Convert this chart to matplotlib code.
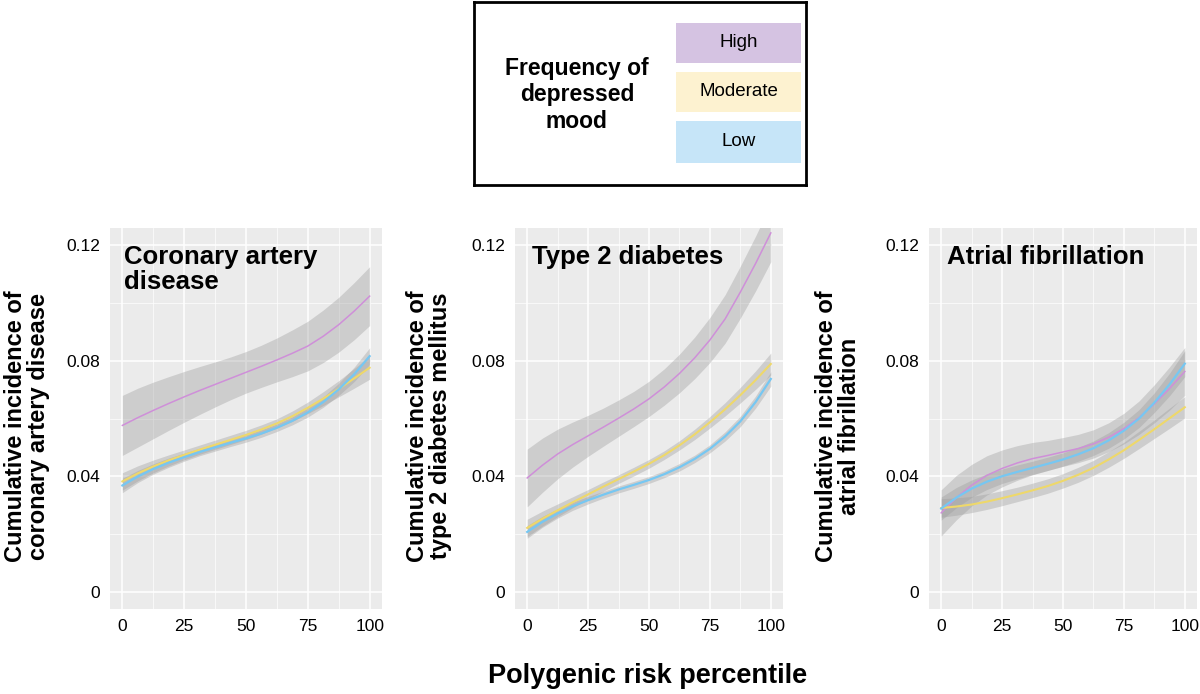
import matplotlib
matplotlib.use("Agg")
import matplotlib.pyplot as plt
from matplotlib.patches import Rectangle
import numpy as np

plt.rcParams['font.family'] = ['Liberation Sans', 'DejaVu Sans']

# percentile positions
pct = [0, 6.25, 12.5, 18.75, 25, 31.25, 37.5, 43.75, 50,
       56.25, 62.5, 68.75, 75, 81.25, 87.5, 93.75, 100]

# Coronary artery disease
cad_high = [0.0576, 0.0603, 0.0628, 0.0652, 0.0675, 0.0697, 0.0718, 0.0739, 0.0760,
            0.0781, 0.0803, 0.0826, 0.0851, 0.0885, 0.0925, 0.0972, 0.1024]
cad_high_ci = [0.0104, 0.0102, 0.0098, 0.0093, 0.0088, 0.0083, 0.0078, 0.0074, 0.0072,
               0.0073, 0.0076, 0.0081, 0.0086, 0.0091, 0.0095, 0.0099, 0.0102]
cad_mod = [0.0382, 0.0410, 0.0434, 0.0455, 0.0474, 0.0492, 0.0509, 0.0526, 0.0543,
           0.0562, 0.0583, 0.0608, 0.0637, 0.0669, 0.0703, 0.0739, 0.0776]
cad_mod_ci = [0.0030, 0.0026, 0.0022, 0.0019, 0.0017, 0.0016, 0.0016, 0.0016, 0.0016,
              0.0016, 0.0016, 0.0018, 0.0020, 0.0024, 0.0028, 0.0034, 0.0040]
cad_low = [0.0368, 0.0399, 0.0425, 0.0447, 0.0466, 0.0484, 0.0500, 0.0516, 0.0531,
           0.0548, 0.0568, 0.0592, 0.0621, 0.0657, 0.0701, 0.0753, 0.0816]
cad_low_ci = [0.0025, 0.0021, 0.0018, 0.0016, 0.0014, 0.0013, 0.0013, 0.0013, 0.0013,
              0.0013, 0.0013, 0.0014, 0.0016, 0.0018, 0.0021, 0.0025, 0.0029]

# Type 2 diabetes
t2d_high = [0.0394, 0.0438, 0.0477, 0.0510, 0.0540, 0.0570, 0.0601, 0.0633, 0.0668,
            0.0709, 0.0756, 0.0810, 0.0872, 0.0945, 0.1038, 0.1137, 0.1243]
t2d_high_ci = [0.0100, 0.0094, 0.0086, 0.0078, 0.0071, 0.0066, 0.0063, 0.0061, 0.0061,
               0.0063, 0.0067, 0.0072, 0.0078, 0.0084, 0.0090, 0.0095, 0.0100]
t2d_mod = [0.0221, 0.0253, 0.0282, 0.0310, 0.0337, 0.0364, 0.0390, 0.0416, 0.0443,
           0.0473, 0.0507, 0.0545, 0.0587, 0.0632, 0.0681, 0.0733, 0.0789]
t2d_mod_ci = [0.0030, 0.0026, 0.0022, 0.0019, 0.0017, 0.0016, 0.0015, 0.0015, 0.0015,
              0.0015, 0.0016, 0.0018, 0.0020, 0.0023, 0.0027, 0.0032, 0.0038]
t2d_low = [0.0207, 0.0242, 0.0271, 0.0296, 0.0317, 0.0336, 0.0354, 0.0370, 0.0387,
           0.0407, 0.0431, 0.0460, 0.0495, 0.0538, 0.0590, 0.0657, 0.0737]
t2d_low_ci = [0.0022, 0.0019, 0.0016, 0.0014, 0.0013, 0.0012, 0.0012, 0.0012, 0.0012,
              0.0012, 0.0013, 0.0013, 0.0014, 0.0016, 0.0018, 0.0021, 0.0025]

# Atrial fibrillation
af_high = [0.0273, 0.0326, 0.0369, 0.0403, 0.0427, 0.0446, 0.0461, 0.0472, 0.0484,
           0.0496, 0.0512, 0.0535, 0.0565, 0.0603, 0.0651, 0.0704, 0.0763]
af_high_ci = [0.0080, 0.0077, 0.0072, 0.0068, 0.0064, 0.0060, 0.0056, 0.0052, 0.0050,
              0.0049, 0.0049, 0.0050, 0.0053, 0.0058, 0.0066, 0.0075, 0.0083]
af_mod = [0.0290, 0.0295, 0.0302, 0.0312, 0.0324, 0.0337, 0.0351, 0.0366, 0.0384,
          0.0405, 0.0429, 0.0458, 0.0490, 0.0526, 0.0563, 0.0601, 0.0639]
af_mod_ci = [0.0032, 0.0030, 0.0028, 0.0027, 0.0026, 0.0025, 0.0025, 0.0025, 0.0025,
             0.0026, 0.0026, 0.0027, 0.0028, 0.0030, 0.0032, 0.0035, 0.0037]
af_low = [0.0288, 0.0326, 0.0357, 0.0381, 0.0400, 0.0415, 0.0429, 0.0443, 0.0458,
          0.0476, 0.0497, 0.0524, 0.0558, 0.0600, 0.0655, 0.0718, 0.0790]
af_low_ci = [0.0040, 0.0035, 0.0030, 0.0027, 0.0025, 0.0024, 0.0023, 0.0023, 0.0023,
             0.0024, 0.0025, 0.0027, 0.0029, 0.0031, 0.0034, 0.0039, 0.0045]

titles = ["Coronary artery\ndisease", "Type 2 diabetes", "Atrial fibrillation"]
ylabels = ["Cumulative incidence of\ncoronary artery disease",
           "Cumulative incidence of\ntype 2 diabetes mellitus",
           "Cumulative incidence of\natrial fibrillation"]
groups = ["High", "Moderate", "Low"]
line_cols = ['#CF8FD9', '#EED86A', '#76C7F2']
box_cols = ['#D5C3E2', '#FDF2D0', '#C6E5F8']

panels = [
    [(cad_high, cad_high_ci), (cad_mod, cad_mod_ci), (cad_low, cad_low_ci)],
    [(t2d_high, t2d_high_ci), (t2d_mod, t2d_mod_ci), (t2d_low, t2d_low_ci)],
    [(af_high, af_high_ci), (af_mod, af_mod_ci), (af_low, af_low_ci)],
]

fig = plt.figure(figsize=(12, 6.94), dpi=100)

lefts = [110, 515, 929]
widths = [272, 268, 268]
title_x = [0.05, 0.063, 0.067]
ylab_x = [-0.22, -0.235, -0.255]

for i in range(3):
    ax = fig.add_axes([lefts[i] / 1200, 1 - 609 / 694, widths[i] / 1200, 381 / 694])
    ax.set_facecolor('#EBEBEB')
    for side in ax.spines.values():
        side.set_visible(False)
    ax.set_xlim(-5, 105)
    ax.set_ylim(-0.006, 0.126)
    ax.set_xticks([0, 25, 50, 75, 100])
    ax.set_xticks([12.5, 37.5, 62.5, 87.5], minor=True)
    ax.set_yticks([0, 0.04, 0.08, 0.12])
    ax.set_yticklabels(["0", "0.04", "0.08", "0.12"])
    ax.set_yticks([0.02, 0.06, 0.10], minor=True)
    ax.grid(which='major', color='white', lw=1.1)
    ax.grid(which='minor', color='white', lw=0.5)
    ax.set_axisbelow(True)
    ax.tick_params(which='both', length=0, labelsize=12.5, colors='black')
    ax.tick_params(axis='x', pad=7)
    ax.tick_params(axis='y', pad=7)

    x = np.array(pct)
    for vals, ci in panels[i]:
        v = np.array(vals)
        c = np.array(ci)
        ax.fill_between(x, v - c, v + c, color='#999999', alpha=0.36, lw=0)
    for (vals, ci), col, lw in zip(panels[i], line_cols, [1.1, 1.5, 1.6]):
        ax.plot(x, vals, color=col, lw=lw, zorder=3)

    ax.text(title_x[i], 0.955, titles[i], transform=ax.transAxes, ha='left', va='top',
            fontsize=18.5, fontweight='bold', linespacing=1.05)
    ax.set_ylabel(ylabels[i], fontsize=17, fontweight='bold', linespacing=1.0)
    ax.yaxis.set_label_coords(ylab_x[i], 0.48)

fig.text(648 / 1200, 1 - 676 / 694, "Polygenic risk percentile", ha='center', va='center',
         fontsize=19.5, fontweight='bold')

# legend box
lg = fig.add_axes([474 / 1200, 1 - 185 / 694, 332 / 1200, 183 / 694])
lg.set_xlim(0, 1)
lg.set_ylim(0, 1)
lg.set_xticks([])
lg.set_yticks([])
for side in lg.spines.values():
    side.set_linewidth(2)
    side.set_color('black')
lg.text(0.31, 0.492, "Frequency of\ndepressed\nmood", ha='center', va='center',
        fontsize=16.5, fontweight='bold', linespacing=1.2)
box_bottoms = [0.667, 0.399, 0.12]
box_heights = [0.219, 0.219, 0.23]
for g, bc, b, h in zip(groups, box_cols, box_bottoms, box_heights):
    lg.add_patch(Rectangle((0.608, b), 0.377, h, color=bc, lw=0))
    lg.text(0.608 + 0.377 / 2, b + h / 2, g, ha='center', va='center', fontsize=13.5)

fig.savefig("out.png", dpi=100)
